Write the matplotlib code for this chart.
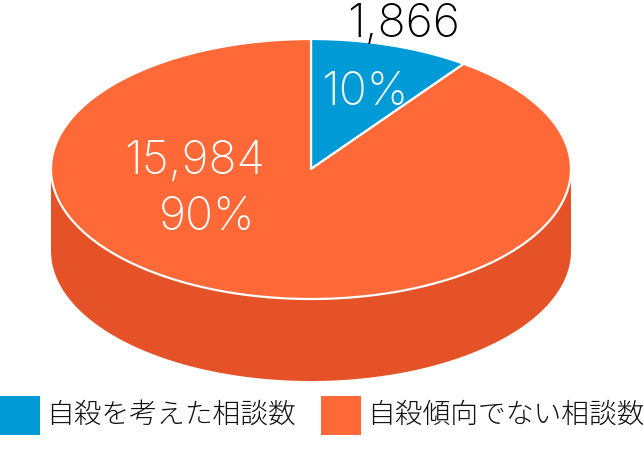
import numpy as np
import matplotlib.pyplot as plt
from matplotlib.patches import Rectangle

plt.rcParams['font.family'] = ['Noto Sans CJK JP', 'DejaVu Sans']

categories = ["自殺を考えた相談数", "自殺傾向でない相談数"]
counts = [1866, 15984]
percents = [10, 90]
colors = ["#009ad6", "#ff6937"]
side_color = "#e55228"

fig = plt.figure(figsize=(6.43, 4.51), dpi=100)
ax = fig.add_axes([0, 0, 1, 1])
ax.set_xlim(0, 643)
ax.set_ylim(451, 0)
ax.axis("off")

cx, cy = 311, 169
rx, ry = 260, 130
depth = 82


def to_xy(theta):
    # clockwise from 12 o'clock
    return cx + rx * np.sin(theta), cy - ry * np.cos(theta)


# side wall
t = np.linspace(np.pi / 2, 3 * np.pi / 2, 200)
x, y = to_xy(t)
verts = list(zip(x, y)) + list(zip(x[::-1], y[::-1] + depth))
ax.add_patch(plt.Polygon(verts, closed=True, fc=side_color, ec="none"))

# top slices
start = 0
for pct, color in zip(percents, colors):
    end = start + 2 * np.pi * pct / 100
    t = np.linspace(start, end, 200)
    x, y = to_xy(t)
    verts = [(cx, cy)] + list(zip(x, y))
    ax.add_patch(plt.Polygon(verts, closed=True, fc=color, ec="white", lw=1.6, joinstyle="round"))
    start = end

num = dict(fontsize=33.5, ha="center", va="center", family=["Inter", "DejaVu Sans"], fontweight="light")
ax.text(403, 25, f"{counts[0]:,}", color="black", **num)
ax.text(365, 93, f"{percents[0]}%", color="white", **num)
ax.text(195, 162, f"{counts[1]:,}", color="white", **num)
ax.text(207, 218, f"{percents[1]}%", color="white", **num)

# legend
ax.add_patch(Rectangle((0, 396), 40, 39, fc=colors[0], ec="none"))
ax.text(46, 415, categories[0], fontsize=20, color="#111111", ha="left", va="center", fontweight="light")
ax.add_patch(Rectangle((321, 396), 40, 39, fc=colors[1], ec="none"))
ax.text(367, 415, categories[1], fontsize=20, color="#111111", ha="left", va="center", fontweight="light")

fig.savefig("out.png", dpi=100)
